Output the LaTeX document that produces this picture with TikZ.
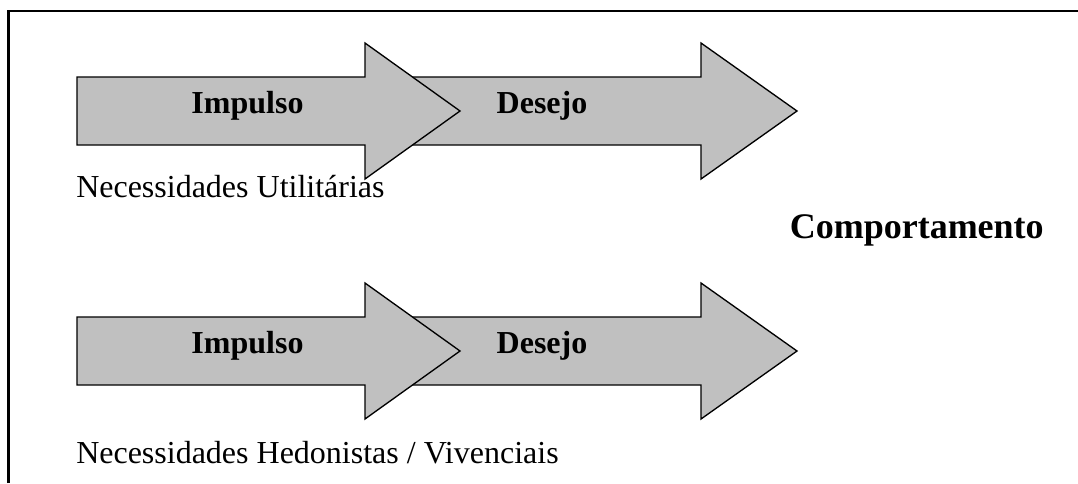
\documentclass[tikz,border=0pt]{standalone}
\usepackage{fontspec}
\setmainfont{Liberation Serif}
\tikzset{
  bigarrow/.style={fill=arrowgray, draw=black, line width=1pt, line join=miter},
  frameline/.style={draw=black, line width=1.6pt},
  arrowlabel/.style={font=\fontsize{24}{28}\selectfont\bfseries, inner sep=0pt, anchor=base},
  needlabel/.style={font=\fontsize{24}{28}\selectfont, inner sep=0pt, anchor=base west},
  biglabel/.style={font=\fontsize{27}{32}\selectfont\bfseries, inner sep=0pt, anchor=base east}
}
\definecolor{arrowgray}{HTML}{C0C0C0}
\newcommand{\myarrow}[4]{% #1 body start x, #2 head base x, #3 tip x, #4 centre y
  \path[bigarrow] (#1,#4-34) -- (#2,#4-34) -- (#2,#4-68) -- (#3,#4) -- (#2,#4+68)
    -- (#2,#4+34) -- (#1,#4+34) -- cycle;}
\begin{document}
\begin{tikzpicture}[x=0.75pt,y=-0.75pt]
\useasboundingbox (0,0) rectangle (1078,483);
\draw[frameline] (8.5,483) -- (8.5,11) -- (1078,11);
% top row
\myarrow{400}{701}{797}{111}
\myarrow{77}{365}{460}{111}
\node[arrowlabel] (imp1) at (247.5,113) {Impulso};
\node[arrowlabel] (des1) at (542,113) {Desejo};
\node[needlabel] (nu) at (76,197) {Necessidades Utilitárias};
% bottom row
\myarrow{400}{701}{797}{351}
\myarrow{77}{365}{460}{351}
\node[arrowlabel] (imp2) at (247.5,353) {Impulso};
\node[arrowlabel] (des2) at (542,353) {Desejo};
\node[needlabel] (nh) at (76,463) {Necessidades Hedonistas / Vivenciais};
% behaviour
\node[biglabel] (comp) at (1044,238) {Comportamento};
\end{tikzpicture}
\end{document}
